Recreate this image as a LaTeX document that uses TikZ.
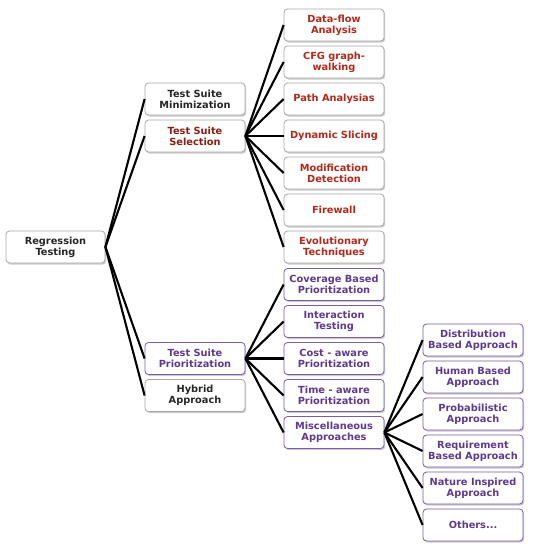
\documentclass[tikz,border=0pt]{standalone}
\usepackage{fontspec}
\setmainfont{DejaVu Sans}
\usetikzlibrary{shadows}
\definecolor{boxgray}{HTML}{A8A8A8}
\definecolor{purp}{HTML}{7B5CA8}
\definecolor{purptext}{HTML}{5E3A8E}
\definecolor{redtext}{HTML}{B02A1C}
\definecolor{darkred}{HTML}{8A1E12}
\tikzset{
  box/.style={draw=boxgray, line width=0.8pt, fill=white, rounded corners=3.5pt,
    minimum width=100pt, minimum height=32pt, inner sep=0.5pt, align=center,
    font=\fontsize{9.8}{11}\selectfont\bfseries, text=black!85,
    drop shadow={shadow xshift=1.2pt, shadow yshift=-1.5pt, fill=black!35, opacity=0.6}},
  selbox/.style={box, text=redtext},
  pribox/.style={box, draw=purp, text=purptext},
  conn/.style={line width=2.1pt, black}
}
\begin{document}
\begin{tikzpicture}[x=1pt,y=-1pt]
\useasboundingbox (0,0) rectangle (536,550);
% root
\node[box, minimum width=99pt] (root) at (55.5,247) {Regression\\Testing};
% level 1
\node[box] (mini) at (195,99) {Test Suite\\Minimization};
\node[box, text=darkred] (sel) at (195,136) {Test Suite\\Selection};
\node[pribox] (pri) at (195,358.5) {Test Suite\\Prioritization};
\node[box] (hyb) at (195,395.5) {Hybrid\\Approach};
% selection children
\node[selbox] (s1) at (334,25) {Data-flow\\Analysis};
\node[selbox] (s2) at (334,62) {CFG graph-\\walking};
\node[selbox] (s3) at (334,99) {Path Analysias};
\node[selbox] (s4) at (334,136) {Dynamic Slicing};
\node[selbox] (s5) at (334,173) {Modification\\Detection};
\node[selbox] (s6) at (334,210) {Firewall};
\node[selbox] (s7) at (334,247) {Evolutionary\\Techniques};
% prioritization children
\node[pribox] (p1) at (334,284.5) {Coverage Based\\Prioritization};
\node[pribox] (p2) at (334,321.5) {Interaction\\Testing};
\node[pribox] (p3) at (334,358.5) {Cost - aware\\Prioritization};
\node[pribox] (p4) at (334,395.5) {Time - aware\\Prioritization};
\node[pribox] (p5) at (334,432.5) {Miscellaneous\\Approaches};
% misc children
\node[pribox] (m1) at (473,340) {Distribution\\Based Approach};
\node[pribox] (m2) at (473,377) {Human Based\\Approach};
\node[pribox] (m3) at (473,414) {Probabilistic\\Approach};
\node[pribox] (m4) at (473,451) {Requirement\\Based Approach};
\node[pribox] (m5) at (473,488) {Nature Inspired\\Approach};
\node[pribox] (m6) at (473,525) {Others...};
% connectors
\foreach \t in {mini,sel,pri,hyb} \draw[conn] (root.east) -- (\t.west);
\foreach \t in {s1,s2,s3,s4,s5,s6,s7} \draw[conn] (sel.east) -- (\t.west);
\foreach \t in {p1,p2,p3,p4,p5} \draw[conn] (pri.east) -- (\t.west);
\foreach \t in {m1,m2,m3,m4,m5,m6} \draw[conn] (p5.east) -- (\t.west);
\end{tikzpicture}
\end{document}
